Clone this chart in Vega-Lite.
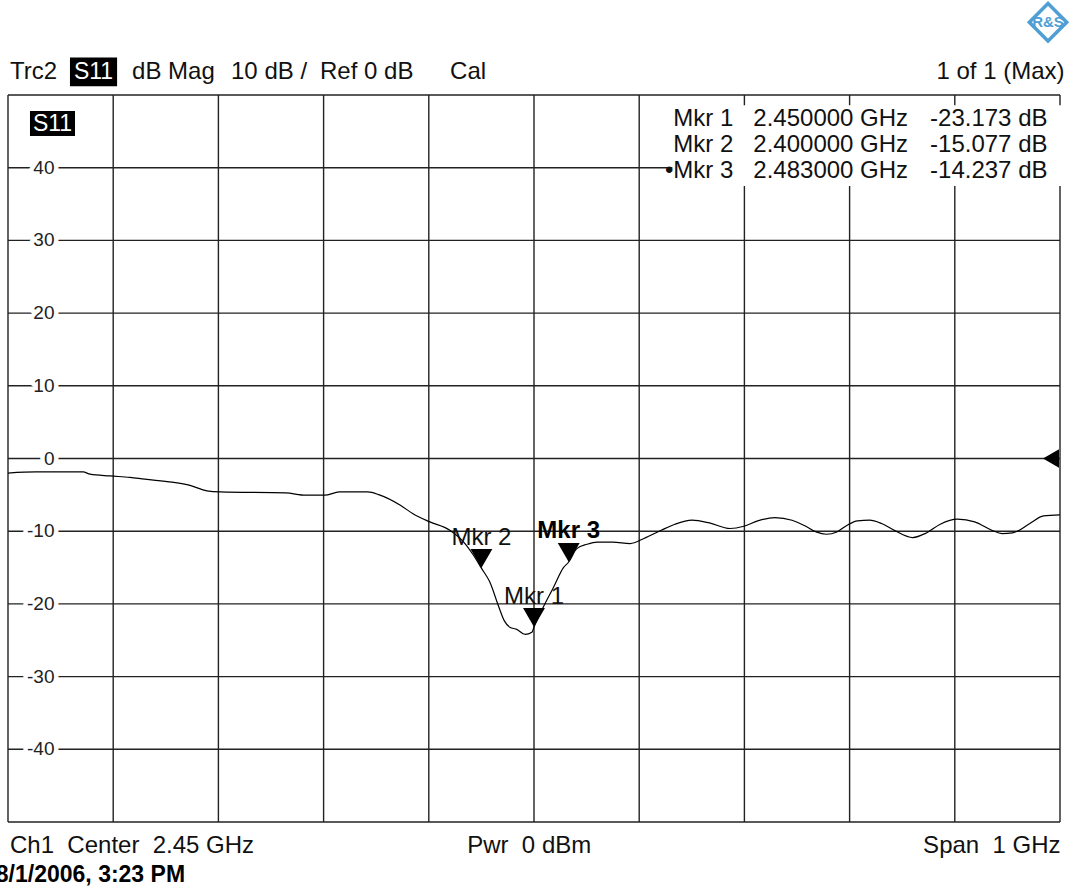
{
  "$schema": "https://vega.github.io/schema/vega-lite/v6.json",
  "autosize": {"type": "none"},
  "width": 1052,
  "height": 727,
  "padding": {"left": 8, "top": 95, "right": 13, "bottom": 74},
  "background": "white",
  "config": {"view": {"stroke": null}, "font": "Liberation Sans", "text": {"font": "Liberation Sans"}},
  "datasets": {
    "trace": [
      {"f": 1.95, "db": -2.0}, {"f": 1.9766, "db": -1.85}, {"f": 2.0213, "db": -1.85}, {"f": 2.028, "db": -2.15},
      {"f": 2.047, "db": -2.4}, {"f": 2.066, "db": -2.6}, {"f": 2.08, "db": -2.85}, {"f": 2.106, "db": -3.25},
      {"f": 2.123, "db": -3.7}, {"f": 2.139, "db": -4.45}, {"f": 2.152, "db": -4.6}, {"f": 2.214, "db": -4.73},
      {"f": 2.233, "db": -5.05}, {"f": 2.251, "db": -5.05}, {"f": 2.265, "db": -4.6}, {"f": 2.292, "db": -4.6},
      {"f": 2.303, "db": -5.0}, {"f": 2.323, "db": -6.43}, {"f": 2.335, "db": -7.6}, {"f": 2.351, "db": -8.72},
      {"f": 2.37, "db": -9.87}, {"f": 2.385, "db": -11.8}, {"f": 2.392, "db": -13.2}, {"f": 2.4, "db": -15.077},
      {"f": 2.408, "db": -17.0}, {"f": 2.4165, "db": -20.4}, {"f": 2.4217, "db": -22.3}, {"f": 2.427, "db": -23.2},
      {"f": 2.4336, "db": -23.5}, {"f": 2.4417, "db": -24.2}, {"f": 2.448, "db": -23.9}, {"f": 2.45, "db": -23.173},
      {"f": 2.459, "db": -20.4}, {"f": 2.4686, "db": -17.7}, {"f": 2.478, "db": -15.0}, {"f": 2.483, "db": -14.237},
      {"f": 2.4907, "db": -12.4}, {"f": 2.5004, "db": -11.8}, {"f": 2.51, "db": -11.5}, {"f": 2.525, "db": -11.5},
      {"f": 2.5414, "db": -11.7}, {"f": 2.5545, "db": -11.0}, {"f": 2.5709, "db": -9.87}, {"f": 2.584, "db": -9.04},
      {"f": 2.6003, "db": -8.49}, {"f": 2.6167, "db": -8.86}, {"f": 2.6363, "db": -9.63}, {"f": 2.6495, "db": -9.32},
      {"f": 2.6626, "db": -8.59}, {"f": 2.679, "db": -8.12}, {"f": 2.6953, "db": -8.49}, {"f": 2.7084, "db": -9.32},
      {"f": 2.7182, "db": -10.1}, {"f": 2.728, "db": -10.42}, {"f": 2.7379, "db": -10.1}, {"f": 2.7477, "db": -9.18},
      {"f": 2.7575, "db": -8.59}, {"f": 2.769, "db": -8.49}, {"f": 2.7804, "db": -8.95}, {"f": 2.7935, "db": -9.96},
      {"f": 2.8099, "db": -10.87}, {"f": 2.823, "db": -10.24}, {"f": 2.8362, "db": -9.04}, {"f": 2.8525, "db": -8.35},
      {"f": 2.8689, "db": -8.72}, {"f": 2.8852, "db": -9.87}, {"f": 2.8951, "db": -10.32}, {"f": 2.9048, "db": -10.24},
      {"f": 2.9213, "db": -8.95}, {"f": 2.9343, "db": -7.9}, {"f": 2.95, "db": -7.76}
    ],
    "gridx": [{"f": 1.95}, {"f": 2.05}, {"f": 2.15}, {"f": 2.25}, {"f": 2.35}, {"f": 2.45}, {"f": 2.55}, {"f": 2.65}, {"f": 2.75}, {"f": 2.85}, {"f": 2.95}],
    "gridy": [{"db": -50}, {"db": -40}, {"db": -30}, {"db": -20}, {"db": -10}, {"db": 0}, {"db": 10}, {"db": 20}, {"db": 30}, {"db": 40}, {"db": 50}],
    "ylab": [{"db": 40, "lab": "40"}, {"db": 30, "lab": "30"}, {"db": 20, "lab": "20"}, {"db": 10, "lab": "10"}, {"db": 0, "lab": "0"}, {"db": -10, "lab": "-10"}, {"db": -20, "lab": "-20"}, {"db": -30, "lab": "-30"}, {"db": -40, "lab": "-40"}],
    "markers": [
      {"name": "Mkr 1", "f": 2.45, "db": -23.173, "active": false},
      {"name": "Mkr 2", "f": 2.4, "db": -15.077, "active": false},
      {"name": "Mkr 3", "f": 2.483, "db": -14.237, "active": true}
    ],
    "table": [
      {"mk": "Mkr 1", "fq": "2.450000 GHz", "val": "-23.173 dB", "db": 46.7},
      {"mk": "Mkr 2", "fq": "2.400000 GHz", "val": "-15.077 dB", "db": 43.12},
      {"mk": "•Mkr 3", "fq": "2.483000 GHz", "val": "-14.237 dB", "db": 39.55}
    ],
    "tablebox": [{"f1": 2.5815, "f2": 2.9533, "db1": 37.5, "db2": 48.6}],
    "badges": [
      {"t": "S11", "f1": 2.0089, "f2": 2.0537, "db1": 51.2, "db2": 55.15, "fc": 2.0313, "dc": 53.15},
      {"t": "S11", "f1": 1.9709, "f2": 2.0137, "db1": 44.35, "db2": 47.79, "fc": 1.9923, "dc": 46.07}
    ],
    "notesLeft": [
      {"t": "Trc2", "f": 1.9519, "db": 53.1},
      {"t": "dB Mag", "f": 2.0679, "db": 53.1},
      {"t": "10 dB /", "f": 2.162, "db": 53.1},
      {"t": "Ref 0 dB", "f": 2.2466, "db": 53.1},
      {"t": "Cal", "f": 2.3702, "db": 53.1},
      {"t": "Ch1\u00a0\u00a0Center\u00a0\u00a02.45 GHz", "f": 1.9519, "db": -53.35},
      {"t": "Pwr\u00a0\u00a00 dBm", "f": 2.3865, "db": -53.35}
    ],
    "notesRight": [
      {"t": "1 of 1 (Max)", "f": 2.9543, "db": 53.1},
      {"t": "Span\u00a0\u00a01 GHz", "f": 2.9505, "db": -53.35}
    ],
    "stamp": [{"t": "8/1/2006, 3:23 PM", "f": 2.1183, "db": -57.33}],
    "refmark": [{"f": 2.95, "db": 0}],
    "logo": [{"t": "R&S", "f": 2.9386, "db": 60.0}]
  },
  "layer": [
    {
      "data": {"name": "gridx"},
      "mark": {"type": "rule", "color": "#222", "strokeWidth": 1.4},
      "encoding": {
        "x": {"field": "f", "type": "quantitative", "scale": {"domain": [1.95, 2.95], "nice": false, "zero": false}, "axis": null}
      }
    },
    {
      "data": {"name": "gridy"},
      "mark": {"type": "rule", "color": "#222", "strokeWidth": 1.4},
      "encoding": {
        "y": {"field": "db", "type": "quantitative", "scale": {"domain": [-50, 50], "nice": false, "zero": false}, "axis": null}
      }
    },
    {
      "data": {"name": "tablebox"},
      "mark": {"type": "rect", "color": "white"},
      "encoding": {
        "x": {"field": "f1", "type": "quantitative", "axis": null},
        "x2": {"field": "f2"},
        "y": {"field": "db1", "type": "quantitative", "axis": null},
        "y2": {"field": "db2"}
      }
    },
    {
      "data": {"name": "badges"},
      "mark": {"type": "rect", "color": "black"},
      "encoding": {
        "x": {"field": "f1", "type": "quantitative", "axis": null},
        "x2": {"field": "f2"},
        "y": {"field": "db1", "type": "quantitative", "axis": null},
        "y2": {"field": "db2"}
      }
    },
    {
      "data": {"name": "badges"},
      "mark": {"type": "text", "color": "white", "fontSize": 23, "align": "center", "baseline": "middle"},
      "encoding": {
        "x": {"field": "fc", "type": "quantitative", "axis": null},
        "y": {"field": "dc", "type": "quantitative", "axis": null},
        "text": {"field": "t"}
      }
    },
    {
      "data": {"name": "trace"},
      "mark": {"type": "line", "color": "black", "strokeWidth": 1.2, "interpolate": "monotone"},
      "encoding": {
        "x": {"field": "f", "type": "quantitative", "axis": null},
        "y": {"field": "db", "type": "quantitative", "axis": null}
      }
    },
    {
      "data": {"name": "ylab"},
      "mark": {"type": "text", "color": "white", "stroke": "white", "strokeWidth": 9, "strokeJoin": "round", "fontSize": 19, "align": "right", "baseline": "middle"},
      "encoding": {
        "x": {"datum": 1.9942, "type": "quantitative", "axis": null},
        "y": {"field": "db", "type": "quantitative", "axis": null},
        "text": {"field": "lab"}
      }
    },
    {
      "data": {"name": "ylab"},
      "mark": {"type": "text", "color": "#222", "fontSize": 19, "align": "right", "baseline": "middle"},
      "encoding": {
        "x": {"datum": 1.9942, "type": "quantitative", "axis": null},
        "y": {"field": "db", "type": "quantitative", "axis": null},
        "text": {"field": "lab"}
      }
    },
    {
      "data": {"name": "markers"},
      "mark": {"type": "point", "shape": "triangle-down", "filled": true, "color": "black", "opacity": 1, "size": 480, "yOffset": -9.5},
      "encoding": {
        "x": {"field": "f", "type": "quantitative", "axis": null},
        "y": {"field": "db", "type": "quantitative", "axis": null}
      }
    },
    {
      "data": {"name": "markers"},
      "transform": [{"filter": "!datum.active"}],
      "mark": {"type": "text", "color": "#111", "fontSize": 24, "align": "center", "baseline": "middle", "dy": -30},
      "encoding": {
        "x": {"field": "f", "type": "quantitative", "axis": null},
        "y": {"field": "db", "type": "quantitative", "axis": null},
        "text": {"field": "name"}
      }
    },
    {
      "data": {"name": "markers"},
      "transform": [{"filter": "datum.active"}],
      "mark": {"type": "text", "color": "black", "fontSize": 24, "fontWeight": "bold", "align": "center", "baseline": "middle", "dy": -31},
      "encoding": {
        "x": {"field": "f", "type": "quantitative", "axis": null},
        "y": {"field": "db", "type": "quantitative", "axis": null},
        "text": {"field": "name"}
      }
    },
    {
      "data": {"name": "refmark"},
      "mark": {"type": "point", "shape": "triangle-left", "filled": true, "color": "black", "opacity": 1, "size": 340, "xOffset": -9},
      "encoding": {
        "x": {"field": "f", "type": "quantitative", "axis": null},
        "y": {"field": "db", "type": "quantitative", "axis": null}
      }
    },
    {
      "data": {"name": "table"},
      "mark": {"type": "text", "color": "#111", "fontSize": 24, "align": "right", "baseline": "middle"},
      "encoding": {
        "x": {"datum": 2.6395, "type": "quantitative", "axis": null},
        "y": {"field": "db", "type": "quantitative", "axis": null},
        "text": {"field": "mk"}
      }
    },
    {
      "data": {"name": "table"},
      "mark": {"type": "text", "color": "#111", "fontSize": 24, "align": "left", "baseline": "middle"},
      "encoding": {
        "x": {"datum": 2.6585, "type": "quantitative", "axis": null},
        "y": {"field": "db", "type": "quantitative", "axis": null},
        "text": {"field": "fq"}
      }
    },
    {
      "data": {"name": "table"},
      "mark": {"type": "text", "color": "#111", "fontSize": 24, "align": "right", "baseline": "middle"},
      "encoding": {
        "x": {"datum": 2.9381, "type": "quantitative", "axis": null},
        "y": {"field": "db", "type": "quantitative", "axis": null},
        "text": {"field": "val"}
      }
    },
    {
      "data": {"name": "notesLeft"},
      "mark": {"type": "text", "color": "#111", "fontSize": 24, "align": "left", "baseline": "middle"},
      "encoding": {
        "x": {"field": "f", "type": "quantitative", "axis": null},
        "y": {"field": "db", "type": "quantitative", "axis": null},
        "text": {"field": "t"}
      }
    },
    {
      "data": {"name": "notesRight"},
      "mark": {"type": "text", "color": "#111", "fontSize": 24, "align": "right", "baseline": "middle"},
      "encoding": {
        "x": {"field": "f", "type": "quantitative", "axis": null},
        "y": {"field": "db", "type": "quantitative", "axis": null},
        "text": {"field": "t"}
      }
    },
    {
      "data": {"name": "stamp"},
      "mark": {"type": "text", "color": "black", "fontSize": 23, "fontWeight": "bold", "font": "Liberation Sans Narrow, Liberation Sans", "align": "right", "baseline": "middle"},
      "encoding": {
        "x": {"field": "f", "type": "quantitative", "axis": null},
        "y": {"field": "db", "type": "quantitative", "axis": null},
        "text": {"field": "t"}
      }
    },
    {
      "data": {"name": "logo"},
      "mark": {"type": "point", "shape": "diamond", "filled": false, "color": "#4f9fd4", "strokeWidth": 3.5, "opacity": 1, "size": 1400},
      "encoding": {
        "x": {"field": "f", "type": "quantitative", "axis": null},
        "y": {"field": "db", "type": "quantitative", "axis": null}
      }
    },
    {
      "data": {"name": "logo"},
      "mark": {"type": "text", "color": "#4f9fd4", "fontSize": 15, "fontWeight": "bold", "align": "center", "baseline": "middle"},
      "encoding": {
        "x": {"field": "f", "type": "quantitative", "axis": null},
        "y": {"field": "db", "type": "quantitative", "axis": null},
        "text": {"field": "t"}
      }
    }
  ]
}
